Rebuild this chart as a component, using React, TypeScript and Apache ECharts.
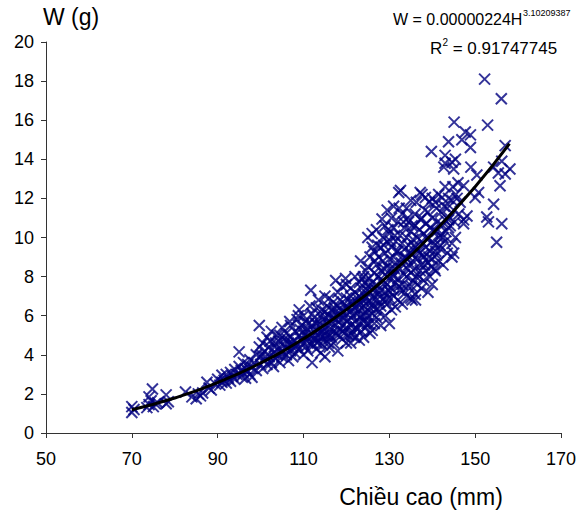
import React, { useEffect, useRef } from "react";
import * as echarts from "echarts";

// Measured points: [height (mm), weight (g)]
const measurements: number[][] = [
  [70, 1.35], [70, 1.05], [70.5, 1.2],
  [73.5, 1.3], [74, 1.45], [74, 1.85], [74.5, 1.65], [74.8, 2.25], [75, 1.35], [75.5, 1.5], [76, 1.55],
  [78, 1.95], [78, 1.5], [78.5, 1.6],
  [82.5, 2.1], [84, 1.85], [85, 1.75], [85.5, 2.0], [86.5, 2.05], [86, 1.9], [87.5, 2.6], [88, 2.3], [88.5, 2.2],
  [89.5, 2.5], [90, 2.75], [90.5, 2.45], [91, 2.6], [91, 2.95], [91.5, 2.7], [92, 2.55], [92, 3.0], [92.5, 2.8], [93, 2.65], [93, 3.1],
  [93.5, 2.9], [94, 3.25], [94, 2.75], [94.5, 3.0], [95, 4.15], [95, 3.4], [95.5, 2.9], [95.5, 3.2], [96, 3.6], [96, 3.05],
  [96.5, 3.3], [96.5, 2.8], [97, 3.5], [97, 3.15], [97.5, 3.75], [97.5, 3.0], [98, 3.35], [98, 2.85],
  [98.5, 3.6], [99, 3.2], [99, 4.0], [99.7, 5.5], [99.7, 4.4], [100, 3.5], [100, 3.9], [100.5, 3.3], [100.5, 4.6],
  [101, 3.7], [101, 4.2], [101.5, 3.5], [101.5, 4.9], [102, 3.9], [102, 4.4], [102.5, 3.6], [102.5, 5.2], [103, 4.1],
  [103, 3.4], [103.5, 4.6], [103.5, 3.8],
  [104, 4.0], [104, 4.3], [104.5, 5.0], [104.5, 3.6], [105, 4.2], [105, 5.4], [105, 3.9], [105.5, 4.5], [105.5, 4.8],
  [106, 4.0], [106, 4.35], [106, 5.1], [106.5, 3.7], [106.5, 4.6], [107, 4.2], [107, 4.9], [107, 5.5], [107.5, 4.4],
  [107.5, 3.9], [108, 4.7], [108, 5.2], [108, 4.1], [108.5, 5.8], [108.5, 4.5],
  [109, 6.3], [109, 4.3], [109, 5.0], [109.5, 4.8], [109.5, 5.5], [110, 4.0], [110, 4.6], [110, 5.2], [110, 6.0],
  [110.5, 4.4], [110.5, 5.7], [111, 4.9], [111, 5.3], [111, 4.2], [111.5, 6.5], [111.7, 7.3], [111.5, 5.0], [112, 3.6],
  [112, 4.6], [112, 5.5], [112, 6.1], [112.5, 4.8], [112.5, 5.2], [112.5, 5.9],
  [113, 4.3], [113, 5.0], [113, 5.6], [113, 6.4], [113.5, 4.7], [113.5, 5.3], [113.5, 6.8], [114, 4.1], [114, 4.9],
  [114, 5.5], [114, 6.0], [114.5, 5.2], [114.5, 5.8], [114.5, 4.5], [115, 3.9], [115, 4.8], [115, 5.4], [115, 6.2],
  [115, 7.0], [115.5, 5.0], [115.5, 5.7], [115.5, 6.5], [116, 4.4], [116, 5.3], [116, 6.0], [116, 6.9], [116.5, 4.9],
  [116.5, 5.6], [116.5, 6.3],
  [117, 4.6], [117, 5.2], [117, 5.9], [117, 6.7], [117.5, 7.8], [117.5, 5.5], [117.5, 6.2], [118, 4.2], [118, 5.0],
  [118, 5.7], [118, 6.5], [118, 7.2], [118.5, 5.3], [118.5, 6.0], [118.5, 6.8], [119, 4.8], [119, 5.5], [119, 6.2],
  [119, 7.5], [119.5, 5.1], [119.5, 5.9], [119.5, 6.6], [119.8, 7.9], [120, 4.6], [120, 5.4], [120, 6.1], [120, 6.9], [120, 7.6],
  [120.5, 5.0], [120.5, 5.8], [120.5, 6.4], [121, 4.6], [121, 5.5], [121, 6.2], [121, 7.0], [121, 7.4], [121.5, 5.2],
  [121.5, 6.0], [121.5, 6.7], [122, 4.9], [122, 5.7], [122, 6.4], [122, 7.2], [122, 8.0], [122.5, 5.3], [122.5, 6.1],
  [122.5, 6.9], [123, 4.75], [123, 5.6], [123, 6.3], [123, 7.0], [123.3, 8.8], [123, 7.7],
  [123.5, 5.2], [123.5, 6.0], [123.5, 6.6], [123.5, 7.4], [124, 4.9], [124, 5.7], [124, 6.5], [124, 7.1], [124, 8.0],
  [124.5, 8.3], [124.5, 5.4], [124.5, 6.2], [124.5, 6.9], [124.8, 5.6], [125, 6.0], [125, 6.7], [125, 7.5], [125, 8.5],
  [125, 10.0], [125.5, 5.1], [125.5, 6.4], [125.5, 7.2], [125.5, 9.0], [126, 5.25], [126, 6.1], [126, 6.9], [126, 7.7],
  [126, 9.5], [126, 10.2], [126.4, 9.3],
  [126.5, 5.6], [126.5, 6.5], [126.5, 7.4], [126.5, 8.2], [127, 5.9], [127, 6.8], [127, 7.6], [127, 8.6], [127, 10.4],
  [127.5, 6.2], [127.5, 7.1], [127.5, 8.0], [127.5, 9.0], [128, 5.5], [128, 6.5], [128, 7.3], [128, 8.3], [128, 9.5],
  [128.3, 10.95], [128.5, 6.8], [128.5, 7.8], [128.5, 8.8], [128.5, 10.0], [129, 6.0], [129, 7.2], [129, 8.1], [129, 9.2],
  [129, 10.6], [129.5, 11.4], [129.5, 6.6], [129.5, 7.6], [129.5, 8.5], [129.5, 9.8],
  [130, 5.6], [130, 6.9], [130, 7.9], [130, 8.9], [130, 10.2], [130.5, 6.3], [130.5, 7.4], [130.5, 8.4], [130.5, 9.5],
  [130.5, 11.0], [131, 7.0], [131, 8.0], [131, 9.0], [131, 10.5], [131, 11.6], [131.4, 6.45], [131.5, 7.7], [131.5, 8.7],
  [131.5, 9.8], [132, 6.8], [132, 7.9], [132, 9.3], [132, 10.8], [132.2, 12.3], [132.6, 12.4], [132.5, 7.3], [132.5, 8.4],
  [132.5, 10.1], [133, 6.6], [133, 7.6], [133, 8.9], [133, 9.7], [133, 11.2], [133.5, 8.1], [133.5, 9.4], [133.5, 10.5],
  [134, 7.0], [134, 8.0], [134, 8.9], [134, 10.0], [134, 11.5], [134.5, 7.5], [134.5, 8.6], [134.5, 9.6], [134.5, 10.8],
  [135, 6.9], [135.3, 6.8], [135, 8.2], [135, 9.2], [135, 10.3], [135, 11.9], [135.5, 7.8], [135.5, 8.8], [135.5, 9.9],
  [136, 7.1], [136.1, 6.8], [136, 8.4], [136, 9.5], [136, 10.6], [136, 11.2], [136.5, 7.6], [136.5, 8.9], [136.5, 10.0],
  [137, 8.0], [137, 9.2], [137, 10.4], [137.2, 12.3], [137.6, 12.2], [137.5, 7.4], [137.5, 8.6], [137.5, 9.8], [137.5, 11.0],
  [138, 7.8], [138, 9.0], [138, 10.2], [138.4, 12.05], [138.5, 8.3], [138.5, 9.5], [138.5, 10.7], [139, 7.2], [139, 8.7],
  [139, 10.0], [139, 11.3], [139.5, 8.0], [139.5, 9.3], [139.5, 10.5], [139.8, 14.4], [140, 7.6], [140, 8.9], [140, 9.8],
  [140, 11.0], [140, 12.0], [140.5, 8.4], [140.5, 9.6], [140.7, 8.3], [140.7, 11.8], [141, 9.1], [141, 10.3], [141, 11.5],
  [141.5, 12.2], [141.5, 8.8], [141.5, 10.0],
  [142, 9.4], [142, 10.7], [142, 11.3], [142.3, 12.05], [142.7, 13.6], [142.5, 8.6], [142.5, 10.0], [143, 9.8], [143, 10.9],
  [143, 12.6], [143, 14.2], [143, 13.8], [143.5, 9.2], [143.5, 11.5], [143.8, 14.9], [143.8, 10.5], [143.8, 10.9],
  [144, 11.0], [144.6, 13.85], [144.6, 11.9], [144.6, 9.7], [144.6, 9.0], [145, 13.5], [145, 9.2], [145.4, 14.0],
  [145.4, 10.0], [145.1, 15.9], [145, 11.4], [145.5, 12.2],
  [146.9, 15.0], [147.7, 15.4], [148.9, 15.25], [148.9, 14.6], [147.3, 12.65], [147.3, 10.9], [147.3, 10.7], [148.1, 11.1],
  [146.5, 11.8], [146, 12.8], [150, 12.05], [150.8, 12.3], [150.4, 13.2], [149, 13.6], [152.2, 18.1], [152.9, 15.75],
  [152.7, 11.05], [153.1, 10.8], [154.3, 13.6], [154.3, 11.7], [155.4, 13.3], [155.8, 12.65], [155, 9.76], [156.1, 17.1],
  [156.2, 13.9], [156.2, 10.7], [157, 14.7], [157, 13.25], [158.1, 13.5],
];

// Further points in the dense middle of the cloud
const denseCore: number[][] = [
  [100.2, 4.0], [101.2, 3.9], [102.2, 4.7], [103.2, 4.4], [104.2, 4.7], [105.2, 4.1], [106.2, 4.8], [107.2, 4.6],
  [108.2, 4.4], [109.2, 5.3], [103.8, 5.0], [106.8, 5.7], [108.8, 6.0],
  [110.2, 5.0], [110.8, 4.7], [111.2, 5.6], [111.8, 4.5], [112.2, 5.0], [112.8, 5.6], [113.2, 4.6], [113.8, 5.1],
  [114.2, 6.3], [114.8, 5.0], [115.2, 5.9], [115.8, 4.6], [116.2, 5.0], [116.8, 5.9], [117.2, 6.4], [117.8, 5.1],
  [118.2, 5.9], [118.8, 6.3], [119.2, 5.2], [119.8, 6.4],
  [120.2, 5.7], [120.8, 6.7], [121.2, 5.0], [121.8, 6.4], [122.2, 5.4], [122.8, 6.6], [123.2, 5.9], [123.8, 6.8],
  [124.2, 6.0], [124.8, 7.3], [125.2, 5.6], [125.8, 6.7], [126.2, 7.3], [126.8, 6.3], [127.2, 7.3], [127.8, 6.7],
  [128.2, 7.7], [128.8, 8.4], [129.2, 6.8], [129.8, 7.3], [125.3, 7.9], [126.7, 8.8], [127.3, 9.6], [128.7, 9.6],
  [129.7, 10.4], [124.3, 7.7], [123.7, 7.9],
  [130.2, 7.2], [130.8, 8.1], [131.2, 8.4], [131.8, 9.3], [132.2, 7.5], [132.8, 8.7], [133.2, 7.3], [133.8, 9.0],
  [134.2, 8.4], [134.8, 9.2], [135.2, 7.5], [135.8, 9.6], [136.2, 8.0], [136.8, 9.3], [137.2, 8.3], [137.8, 9.1],
  [138.2, 8.6], [138.8, 9.9], [139.2, 9.0], [139.8, 8.5], [130.3, 9.8], [131.3, 10.1], [132.3, 11.5], [133.3, 10.8],
  [134.3, 11.0], [135.3, 10.6], [136.3, 11.8], [137.3, 10.9], [138.3, 11.4], [139.3, 11.8],
  [140.2, 10.4], [140.8, 9.3], [141.2, 10.8], [141.8, 9.6], [142.2, 10.2], [142.8, 11.6], [143.2, 10.3], [143.8, 12.0],
  [144.2, 10.6], [144.8, 12.6], [145.2, 10.8], [145.8, 12.0], [146.2, 11.2],
];

// Power trendline W = 0.00000224 H^3.10209387, read at these heights
const trendHeights: number[] = [70, 80, 90, 100, 110, 120, 130, 140, 150, 158];
const trendWeights: number[] = [1.19, 1.79, 2.58, 3.58, 4.82, 6.31, 8.09, 10.18, 12.6, 14.8];

const xTicks = { min: 50, max: 170, interval: 20 };
const yTicks = { min: 0, max: 20, interval: 2 };

const FONT = "'Liberation Sans', Arial, sans-serif";

export default function App() {
  const ref = useRef<HTMLDivElement>(null);

  useEffect(() => {
    if (!ref.current) return;
    const chart = echarts.init(ref.current, null, { renderer: "svg" });
    const trend = trendHeights.map((h, i) => [h, trendWeights[i]]);
    chart.setOption({
      animation: false,
      backgroundColor: "#fff",
      grid: { left: 46, right: 16, top: 42, bottom: 88, containLabel: false },
      xAxis: {
        type: "value",
        min: xTicks.min,
        max: xTicks.max,
        interval: xTicks.interval,
        axisLine: { show: true, onZero: false, lineStyle: { color: "#333", width: 1 } },
        axisTick: { show: true, inside: false, length: 5, lineStyle: { color: "#333" } },
        axisLabel: { color: "#000", fontSize: 18, fontFamily: FONT, margin: 17 },
        splitLine: { show: false },
      },
      yAxis: {
        type: "value",
        min: yTicks.min,
        max: yTicks.max,
        interval: yTicks.interval,
        axisLine: { show: true, onZero: false, lineStyle: { color: "#333", width: 1 } },
        axisTick: { show: true, inside: false, length: 5, lineStyle: { color: "#333" } },
        axisLabel: { color: "#000", fontSize: 18, fontFamily: FONT, margin: 12 },
        splitLine: { show: false },
      },
      series: [
        {
          type: "scatter",
          data: measurements.concat(denseCore),
          symbol: "path://M0,0L10,10M10,0L0,10",
          symbolSize: 11,
          itemStyle: { color: "transparent", borderColor: "#000080", borderWidth: 2 },
          z: 2,
        },
        {
          type: "line",
          data: trend,
          smooth: true,
          showSymbol: false,
          lineStyle: { color: "#000", width: 3 },
          z: 3,
        },
      ],
      graphic: [
        { type: "text", left: 43, top: 5, style: { text: "W (g)", fontSize: 23, fontFamily: FONT, fill: "#000" } },
        { type: "text", x: 421, y: 497, style: { text: "Chiều cao (mm)", fontSize: 23, fontFamily: FONT, fill: "#000", align: "center", verticalAlign: "middle" } },
        { type: "text", x: 393, y: 19, style: { text: "W = 0.00000224H", fontSize: 16, fontFamily: FONT, fill: "#000", align: "left", verticalAlign: "middle" } },
        { type: "text", x: 523, y: 13, style: { text: "3.10209387", fontSize: 9, fontFamily: FONT, fill: "#000", align: "left", verticalAlign: "middle" } },
        { type: "text", x: 430, y: 48, style: { text: "R", fontSize: 17, fontFamily: FONT, fill: "#000", align: "left", verticalAlign: "middle" } },
        { type: "text", x: 442.5, y: 42, style: { text: "2", fontSize: 10, fontFamily: FONT, fill: "#000", align: "left", verticalAlign: "middle" } },
        { type: "text", x: 448, y: 48, style: { text: " = 0.91747745", fontSize: 17, fontFamily: FONT, fill: "#000", align: "left", verticalAlign: "middle" } },
      ],
    });
    return () => chart.dispose();
  }, []);

  return <div ref={ref} style={{ position: "fixed", left: 0, top: 0, width: 579, height: 521 }} />;
}
